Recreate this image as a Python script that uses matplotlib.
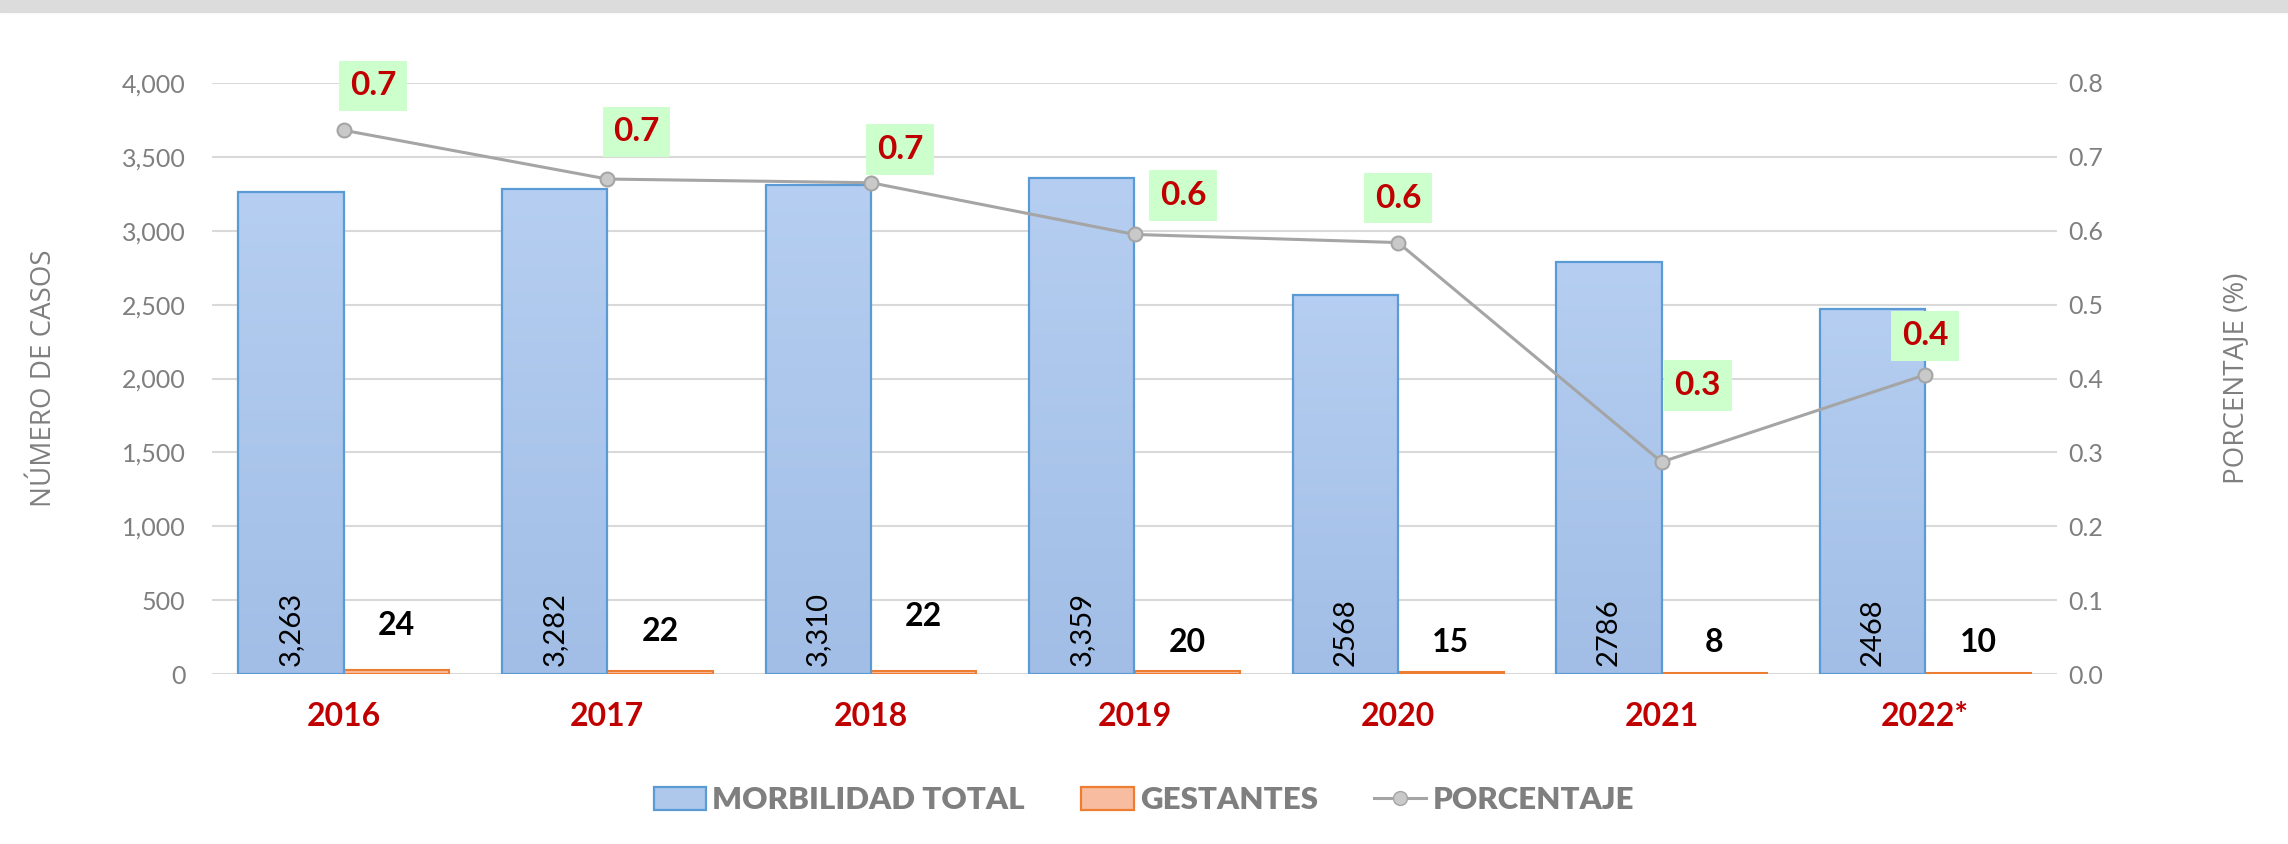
import numpy as np
import matplotlib
matplotlib.use("Agg")
import matplotlib.pyplot as plt
from matplotlib.patches import Patch, Rectangle
from matplotlib.lines import Line2D
from matplotlib.colors import LinearSegmentedColormap

plt.rcParams['font.family'] = ['Lato', 'DejaVu Sans']

years = ["2016", "2017", "2018", "2019", "2020", "2021", "2022*"]
morbilidad = [3263, 3282, 3310, 3359, 2568, 2786, 2468]
morbilidad_labels = ["3,263", "3,282", "3,310", "3,359", "2568", "2786", "2468"]
gestantes = [24, 22, 22, 20, 15, 8, 10]
porcentaje = [0.736, 0.670, 0.665, 0.595, 0.584, 0.287, 0.405]
porcentaje_labels = ["0.7", "0.7", "0.7", "0.6", "0.6", "0.3", "0.4"]

# label placement (layout only)
gest_label_y = [330, 285, 390, 215, 215, 215, 215]
pct_offsets = [(21, 32), (21, 34), (21, 24), (35, 28), (0, 32), (26, 55), (0, 28)]

GRAY = "#7F7F7F"
RED = "#C00000"

fig = plt.figure(figsize=(22.88, 8.44), dpi=100)
fig.patches.append(Rectangle((0, 1 - 12 / 844), 1, 12 / 844, transform=fig.transFigure,
                             color="#DCDCDC", zorder=0))

ax = fig.add_axes([212 / 2288, 1 - 674 / 844, (2057 - 212) / 2288, (674 - 83) / 844])
ax2 = ax.twinx()

x = np.arange(len(years))
w = 0.4
bars = ax.bar(x - w / 2, morbilidad, w, color="#AEC8EC", linewidth=0)
ax.bar(x + w / 2, gestantes, w, color="#F8BCA0", edgecolor="#ED7D31", linewidth=1.5)

# soft gradient fill in the blue bars, outline drawn on top
cmap = LinearSegmentedColormap.from_list("blu", ["#A2BEE6", "#B5CEF1"])
grad = np.linspace(0, 1, 256).reshape(-1, 1)
for b in bars:
    x0, y0 = b.get_x(), b.get_y()
    im = ax.imshow(grad, cmap=cmap, origin="lower", aspect="auto",
                   extent=(x0, x0 + b.get_width(), y0, y0 + b.get_height()), zorder=b.get_zorder())
    im.set_clip_path(b)
ax.bar(x - w / 2, morbilidad, w, fill=False, edgecolor="#5B9BD5", linewidth=1.6, zorder=3)

ax.set_xlim(-0.5, len(years) - 0.5)
ax.set_ylim(0, 4000)
ax.set_yticks(np.arange(0, 4001, 500))
ax.set_yticklabels([f"{v:,}" for v in range(0, 4001, 500)])
ax.yaxis.grid(True, color="#D9D9D9", linewidth=1.5)
ax.set_axisbelow(True)
ax.set_xticks(x)
ax.set_xticklabels(years, color=RED, fontsize=23, fontweight="bold")
ax.tick_params(axis="x", length=0, pad=20)
ax.tick_params(axis="y", length=0, pad=19, labelsize=18, labelcolor=GRAY)
for s in ax.spines.values():
    s.set_visible(False)

for xi, lab in zip(x, morbilidad_labels):
    ax.text(xi - w / 2, 55, lab, rotation=90, ha="center", va="bottom",
            fontsize=21, color="black", zorder=5)
for xi, v, ly in zip(x, gestantes, gest_label_y):
    ax.text(xi + w / 2, ly, str(v), ha="center", va="center",
            fontsize=23, fontweight="bold", color="black")

ax2.plot(x, porcentaje, color="#A5A5A5", linewidth=2.2, marker="o", markersize=10,
         markerfacecolor="#C9C9C9", markeredgecolor="#A5A5A5", markeredgewidth=1.5)
ax2.set_ylim(0, 0.8)
ax2.set_yticks(np.arange(0, 0.81, 0.1))
ax2.set_yticklabels([f"{v:.1f}" for v in np.arange(0, 0.81, 0.1)])
ax2.tick_params(axis="y", length=0, pad=8, labelsize=18, labelcolor=GRAY)
for s in ax2.spines.values():
    s.set_visible(False)

for xi, v, lab, off in zip(x, porcentaje, porcentaje_labels, pct_offsets):
    ax2.annotate(lab, (xi, v), xytext=off, textcoords="offset points",
                 ha="center", va="center", fontsize=24, fontweight="bold", color=RED,
                 bbox=dict(boxstyle="square,pad=0.32", facecolor="#CCFFCC", edgecolor="none"))

fig.text(44 / 2288, 1 - 378 / 844, "NÚMERO DE CASOS", rotation=90, ha="center", va="center",
         fontsize=20, color=GRAY, family="Open Sans")
fig.text(2236 / 2288, 1 - 378 / 844, "PORCENTAJE (%)", rotation=90, ha="center", va="center",
         fontsize=20, color=GRAY, family="Open Sans")

handles = [
    Patch(facecolor="#AEC8EC", edgecolor="#5B9BD5", linewidth=1.6, label="MORBILIDAD TOTAL"),
    Patch(facecolor="#F8BCA0", edgecolor="#ED7D31", linewidth=1.6, label="GESTANTES"),
    Line2D([0], [0], color="#A5A5A5", linewidth=2.2, marker="o", markersize=10,
           markerfacecolor="#C9C9C9", markeredgecolor="#A5A5A5", label="PORCENTAJE"),
]
fig.legend(handles=handles, loc="center", bbox_to_anchor=(0.5, 1 - 800 / 844), ncol=3,
           frameon=False, prop={"family": "Lato", "size": 22.5, "weight": "heavy"},
           labelcolor="#7F7F7F", handlelength=1.67, handleheight=0.75,
           handletextpad=0.2, columnspacing=1.8)

fig.savefig("out.png", dpi=100)
